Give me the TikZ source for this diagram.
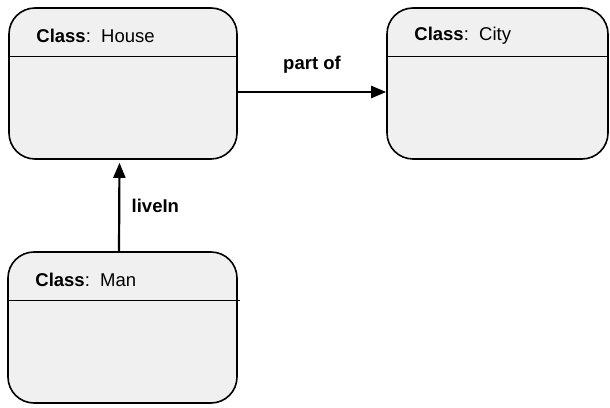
\documentclass[tikz,border=0pt]{standalone}
\usepackage{fontspec}
\setmainfont{Liberation Sans}
\usetikzlibrary{arrows.meta}
\usetikzlibrary{positioning}

\tikzset{
	classbox/.style={draw, line width=1.6pt, fill=black!6, rounded corners=26pt,
		minimum width=228pt, minimum height=151pt, inner sep=0pt},
	classtitle/.style={anchor=west, inner sep=0pt, font=\fontsize{18.5}{21}\selectfont},
	assoc/.style={line width=2.2pt, -{Triangle[length=15pt,width=12pt]}},
	assoclabel/.style={font=\fontsize{18.5}{21}\selectfont\bfseries}
}

\begin{document}
\begin{tikzpicture}[x=1pt,y=1pt]
			\useasboundingbox (0,0) rectangle (610,407);
			% the three classes
			\node[classbox] (house) at (123, 323.5) {};
			\node[classbox, minimum width=221pt] (city) at (497.5, 323.5) {};
			\node[classbox, minimum width=229pt] (man) at (122.5, 79.5) {};
			\draw[line width=1.2pt] ([yshift=-49pt]house.north west) -- ([yshift=-49pt]house.north east);
			\draw[line width=1.2pt] ([yshift=-49pt]city.north west) -- ([yshift=-49pt]city.north east);
			\draw[line width=1.2pt] ([yshift=-49pt]man.north west) -- ([yshift=-49pt,xshift=2pt]man.north east);
			\node[classtitle] (housetitle) at ([xshift=28pt,yshift=-28.5pt]house.north west) {\textbf{Class}:\ \ House};
			\node[classtitle] (citytitle) at ([xshift=28pt,yshift=-28.5pt]city.north west) {\textbf{Class}:\ \ City};
			\node[classtitle] (mantitle) at ([xshift=28pt,yshift=-28.5pt]man.north west) {\textbf{Class}:\ \ Man};
			% associations
			\draw[assoc] ([yshift=-8.5pt]house.east) -- ([yshift=-8.5pt]city.west)
				node[assoclabel, midway, yshift=27pt] (partof) {part of};
			\draw[assoc, shorten >=3pt] ([xshift=-3.5pt]man.north) -- ([xshift=-3.5pt]house.south)
				node[assoclabel, midway, anchor=west, xshift=8pt] (livein) {liveIn};
\end{tikzpicture}
\end{document}
